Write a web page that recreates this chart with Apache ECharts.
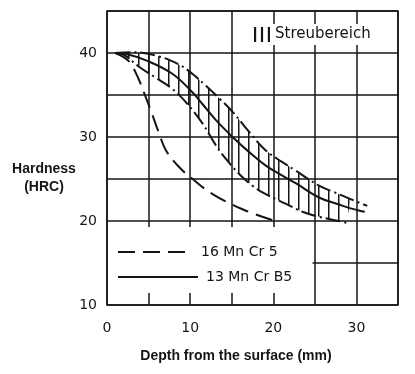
<!DOCTYPE html>
<html>
<head>
<meta charset="utf-8">
<script src="https://cdn.jsdelivr.net/npm/echarts@6/dist/echarts.min.js"></script>
<style>
html,body{margin:0;padding:0;background:#fff;}
#chart{width:415px;height:374px;}
</style>
</head>
<body>
<div id="chart"></div>
<script>
// ---- data ----
const xTickLabels = [0, 10, 20, 30];
const yTickLabels = [10, 20, 30, 40];

// 16 Mn Cr 5 (dashed)
const depth16MnCr5 = [1, 2, 2.8, 3.8, 4.6, 5.4, 6.2, 7.1, 8.7, 10.3, 12.7, 16.3, 19.9];
const hard16MnCr5  = [40, 39.5, 38.8, 36.9, 34.9, 32.8, 30.6, 28.4, 26.4, 25.0, 23.2, 21.4, 20.1];

// 13 Mn Cr B5 (solid, mean curve)
const depth13MnCrB5 = [1, 2.2, 5, 7.9, 10.3, 11.5, 13.1, 15.1, 17.1, 19.1, 21.1, 22.7, 25.5, 27.8, 29.3, 31];
const hard13MnCrB5  = [40, 39.9, 39.0, 37.5, 35.3, 33.9, 32.0, 30.0, 28.2, 26.6, 25.4, 24.5, 22.8, 22.0, 21.5, 21.1];

// scatter band (Streubereich), upper bound (dash-dot)
const depthUpper = [1, 3, 6.2, 8.7, 10.3, 11.9, 13.5, 15.1, 17.1, 19.1, 21.1, 22.7, 25.5, 27.4, 29.3, 31.3];
const hardUpper  = [40, 40.1, 39.6, 38.6, 37.5, 36.1, 34.6, 33.0, 30.6, 28.4, 27.0, 26.0, 24.2, 23.4, 22.6, 21.8];

// scatter band, lower bound (dash-dot)
const depthLower = [1, 2, 3.8, 5.8, 7.9, 9.7, 11.5, 13.1, 14.3, 15.9, 17.5, 18.7, 21.6, 23.5, 25.5, 27.4, 28.8];
const hardLower  = [40, 39.8, 38.4, 37.1, 35.7, 33.9, 31.6, 29.0, 27.4, 25.6, 24.2, 23.4, 22.0, 21.1, 20.5, 20.1, 19.8];

// ---- build ----
const zip = (xs, ys) => xs.map((x, i) => [x, ys[i]]);
const ink = '#151515';
const techFont = 'DejaVu Sans';
const clear = 'rgba(0,0,0,0)';

// hatch pattern (vertical lines)
const pc = document.createElement('canvas');
pc.width = 10; pc.height = 10;
const pctx = pc.getContext('2d');
pctx.fillStyle = ink;
pctx.fillRect(8, 0, 1.5, 10);

const upperPts = zip(depthUpper, hardUpper);
const lowerPts = zip(depthLower, hardLower);
const lastLowerX = depthLower[depthLower.length - 1];

const chart = echarts.init(document.getElementById('chart'), null, {renderer: 'canvas'});
chart.setOption({
  backgroundColor: '#fff',
  animation: false,
  grid: {left: 107, right: 17, top: 11, bottom: 69, show: true, borderColor: ink, borderWidth: 1.5, backgroundColor: 'transparent'},
  xAxis: {
    type: 'value', min: 0, max: 35, interval: 5,
    axisLine: {show: false}, axisTick: {show: false},
    splitLine: {show: true, lineStyle: {color: ink, width: 1.5}},
    axisLabel: {
      margin: 16, color: ink, fontFamily: techFont, fontSize: 14,
      formatter: v => xTickLabels.includes(v) ? String(v) : ''
    }
  },
  yAxis: {
    type: 'value', min: 10, max: 45, interval: 5,
    axisLine: {show: false}, axisTick: {show: false},
    splitLine: {show: true, lineStyle: {color: ink, width: 1.5}},
    axisLabel: {
      margin: 10, color: ink, fontFamily: techFont, fontSize: 14,
      formatter: v => yTickLabels.includes(v) ? String(v) : ''
    }
  },
  legend: [
    {
      data: ['16 Mn Cr 5'], left: 108, top: 227, orient: 'vertical',
      padding: [18, 35, 5, 9], backgroundColor: '#fff',
      itemWidth: 75, itemHeight: 14, itemGap: 0,
      itemStyle: {color: clear, borderColor: clear, borderWidth: 0},
      textStyle: {color: ink, fontFamily: techFont, fontSize: 14, lineHeight: 14, padding: [0, 0, 0, 3]},
      selectedMode: false
    },
    {
      data: ['13 Mn Cr B5'], left: 108, top: 264, orient: 'vertical',
      padding: [6, 20, 9, 9], backgroundColor: '#fff',
      itemWidth: 80, itemHeight: 14, itemGap: 0,
      itemStyle: {color: clear, borderColor: clear, borderWidth: 0},
      textStyle: {color: ink, fontFamily: techFont, fontSize: 14, lineHeight: 14, padding: [0, 0, 0, 3]},
      selectedMode: false
    },
    {
      data: [{name: 'Streubereich', icon: 'path://M0,0h2.2v15h-2.2z M7,0h2.2v15h-2.2z M14,0h2.2v15h-2.2z'}],
      left: 250, top: 24, padding: [3, 8, 3, 4], backgroundColor: '#fff',
      itemWidth: 16, itemHeight: 15, itemGap: 0,
      itemStyle: {color: ink},
      textStyle: {color: ink, fontFamily: techFont, fontSize: 15, lineHeight: 15},
      selectedMode: false
    }
  ],
  graphic: [
    {type: 'text', x: 44, y: 178, z: 10,
     style: {text: 'Hardness\n(HRC)', fill: ink, font: 'bold 14px "Liberation Sans"', lineHeight: 18, textAlign: 'center', textVerticalAlign: 'middle'}},
    {type: 'text', x: 236, y: 356, z: 10,
     style: {text: 'Depth from the surface (mm)', fill: ink, font: 'bold 14px "Liberation Sans"', textAlign: 'center', textVerticalAlign: 'middle'}}
  ],
  series: [
    {
      name: 'Streubereich', type: 'custom', silent: true, clip: true, z: 1,
      itemStyle: {color: ink},
      data: [[0, 0]],
      renderItem: function (params, api) {
        const pts = [];
        upperPts.forEach(p => { if (p[0] <= lastLowerX + 0.6) pts.push(api.coord(p)); });
        lowerPts.slice().reverse().forEach(p => pts.push(api.coord(p)));
        return {type: 'polygon', shape: {points: pts}, style: {fill: {image: pc, repeat: 'repeat'}, stroke: null}};
      }
    },
    {
      name: '16 Mn Cr 5', type: 'line', data: zip(depth16MnCr5, hard16MnCr5),
      smooth: 0.4, symbol: 'none', z: 3,
      lineStyle: {color: ink, width: 2, type: [17, 8]}, itemStyle: {color: ink}
    },
    {
      name: '13 Mn Cr B5', type: 'line', data: zip(depth13MnCrB5, hard13MnCrB5),
      smooth: 0.4, symbol: 'none', z: 3,
      lineStyle: {color: ink, width: 2, type: 'solid'}, itemStyle: {color: ink}
    },
    {
      name: 'Streubereich oben', type: 'line', data: upperPts,
      smooth: 0.4, symbol: 'none', z: 3,
      lineStyle: {color: ink, width: 2, type: [15, 4, 2, 4]}, itemStyle: {color: ink}
    },
    {
      name: 'Streubereich unten', type: 'line', data: lowerPts,
      smooth: 0.4, symbol: 'none', z: 3,
      lineStyle: {color: ink, width: 2, type: [15, 4, 2, 4]}, itemStyle: {color: ink}
    }
  ]
});
</script>
</body>
</html>
